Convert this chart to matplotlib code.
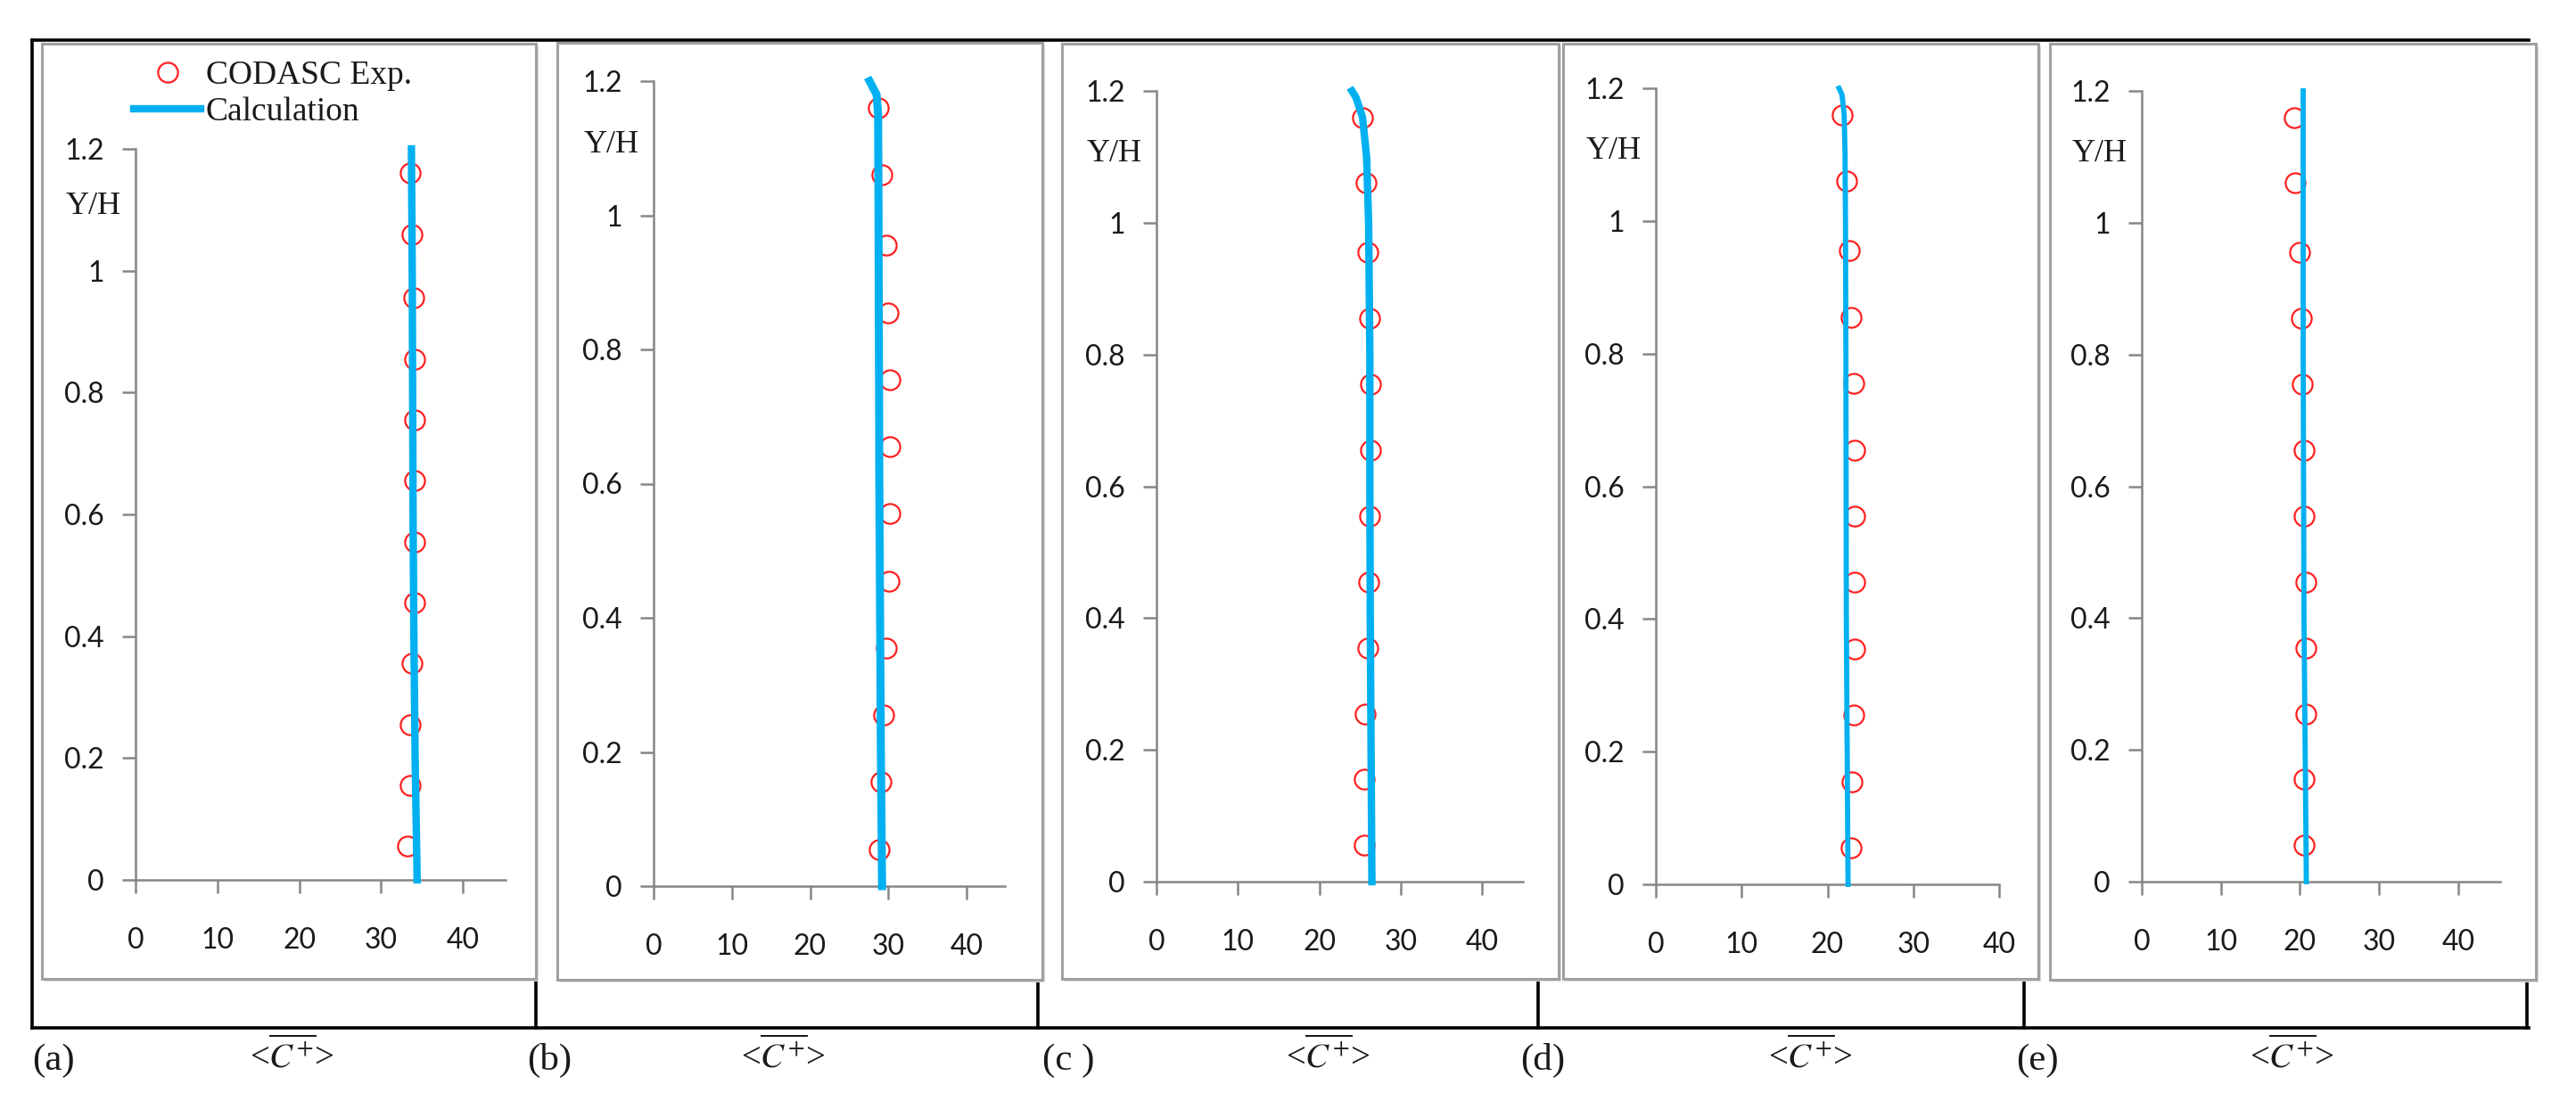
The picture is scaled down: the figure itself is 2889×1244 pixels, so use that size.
import matplotlib.pyplot as plt
from matplotlib.patches import Rectangle

# ---- data ----
exp_y = [0.055, 0.155, 0.255, 0.355, 0.455, 0.555, 0.655, 0.755, 0.855, 0.955, 1.06, 1.16]

exp_a = [33.2, 33.5, 33.6, 33.8, 34.1, 34.1, 34.1, 34.1, 34.1, 34.0, 33.8, 33.5]
exp_b = [28.85, 29.1, 29.4, 29.75, 30.1, 30.2, 30.2, 30.2, 30.0, 29.7, 29.2, 28.75]
exp_c = [25.5, 25.5, 25.6, 25.9, 26.1, 26.2, 26.3, 26.3, 26.2, 26.0, 25.7, 25.3]
exp_d = [22.8, 22.9, 23.1, 23.2, 23.2, 23.2, 23.2, 23.1, 22.8, 22.5, 22.2, 21.7]
exp_e = [20.5, 20.5, 20.7, 20.7, 20.7, 20.5, 20.5, 20.3, 20.2, 19.9, 19.4, 19.3]

calc_y_a = [0, 0.2, 0.4, 0.6, 0.8, 1.0, 1.2]
calc_x_a = [34.4, 34.15, 34.0, 33.9, 33.85, 33.8, 33.7]
calc_y_b = [0, 0.2, 0.4, 0.6, 0.8, 1.0, 1.15, 1.18, 1.2]
calc_x_b = [29.2, 29.05, 28.95, 28.85, 28.8, 28.75, 28.7, 28.5, 27.6]
calc_y_c = [0, 0.2, 0.4, 0.6, 0.8, 1.0, 1.1, 1.16, 1.19, 1.2]
calc_x_c = [26.45, 26.35, 26.25, 26.2, 26.2, 26.05, 25.8, 25.3, 24.5, 24.0]
calc_y_d = [0, 0.4, 0.8, 1.0, 1.1, 1.16, 1.19, 1.2]
calc_x_d = [22.4, 22.2, 22.15, 22.1, 22.05, 21.95, 21.7, 21.35]
calc_y_e = [0, 0.4, 0.8, 1.2]
calc_x_e = [20.8, 20.5, 20.4, 20.4]

panel_tags = ['(a)', '(b)', '(c )', '(d)', '(e)']
x_ticks = [0, 10, 20, 30, 40]
y_ticks = [0, 0.2, 0.4, 0.6, 0.8, 1, 1.2]
y_ticklabels = ['0', '0.2', '0.4', '0.6', '0.8', '1', '1.2']
xlabel = r'<$\overline{C^{+}}$>'

panels = [
    (exp_a, calc_x_a, calc_y_a),
    (exp_b, calc_x_b, calc_y_b),
    (exp_c, calc_x_c, calc_y_c),
    (exp_d, calc_x_d, calc_y_d),
    (exp_e, calc_x_e, calc_y_e),
]

# ---- layout in pixels of the 2889x1244 picture ----
W, H = 2889, 1244
# axes: left, right, top(1.2), bottom(0), xmax
axes_px = [
    (152, 567, 167, 987, 45.2),
    (733, 1127, 91, 994, 44.9),
    (1297, 1708, 102, 989, 45.0),
    (1857, 2242, 99, 992, 40.0),
    (2402, 2804, 102, 989, 45.3),
]
# gray chart boxes: left, top, right, bottom
boxes_px = [
    (47, 49, 601, 1098),
    (625, 48, 1169, 1099),
    (1191, 49, 1748, 1098),
    (1753, 49, 2286, 1098),
    (2299, 49, 2844, 1099),
]
dividers_x = [601, 1164, 1725, 2270, 2834]
tag_x = [60, 616, 1198, 1730, 2285]
xlabel_x = [327, 878, 1489, 2030, 2570]
lw_calc = [6.0, 6.5, 6.0, 4.2, 4.2]

blue = '#00b0f0'
red = '#ff2020'
axis_gray = '#868686'
serif = 'Liberation Serif'
sans = 'Lato'
plt.rcParams['mathtext.fontset'] = 'stix'

fig = plt.figure(figsize=(W / 100, H / 100), dpi=100)
bg = fig.add_axes([0, 0, 1, 1])
bg.set_xlim(0, W)
bg.set_ylim(H, 0)
bg.axis('off')

# black outer frame
bg.plot([36, 2836], [45, 45], color='black', lw=2.6, zorder=1)
bg.plot([36, 36], [45, 1153], color='black', lw=2.6, zorder=1)
bg.plot([36, 2836], [1153, 1153], color='black', lw=2.6, zorder=1)
for dx in dividers_x:
    bg.plot([dx, dx], [1090, 1153], color='black', lw=2.6, zorder=1)

# chart boxes with a light shadow
for (l, t, r, b) in boxes_px:
    bg.add_patch(Rectangle((l + 3, t + 3), r - l, b - t, facecolor='#dcdcdc',
                           edgecolor='none', zorder=2))
    bg.add_patch(Rectangle((l, t), r - l, b - t, facecolor='white',
                           edgecolor='#a0a0a0', lw=2.2, zorder=3))

for i, (exp_x, cx, cy) in enumerate(panels):
    left, right, top, bottom, xmax = axes_px[i]
    ax = fig.add_axes([left / W, 1 - bottom / H, (right - left) / W, (bottom - top) / H])
    ax.patch.set_alpha(0)
    ax.set_xlim(0, xmax)
    ax.set_ylim(0, 1.2)

    ax.plot(exp_x, exp_y, linestyle='none', marker='o', markersize=16,
            markerfacecolor='none', markeredgecolor=red, markeredgewidth=1.6,
            zorder=3, clip_on=False, label='CODASC Exp.')
    ax.plot(cx, cy, color=blue, lw=lw_calc[i], zorder=4, clip_on=False,
            label='Calculation')

    for side in ['top', 'right']:
        ax.spines[side].set_visible(False)
    for side in ['left', 'bottom']:
        ax.spines[side].set_color(axis_gray)
        ax.spines[side].set_linewidth(1.8)

    ax.set_xticks(x_ticks)
    ax.set_yticks(y_ticks)
    ax.set_yticklabels(y_ticklabels)
    ax.tick_params(axis='both', direction='out', length=10.5, width=1.8,
                   color=axis_gray, labelsize=23, labelcolor='#1a1a1a')
    ax.tick_params(axis='y', pad=15)
    ax.tick_params(axis='x', pad=28)
    for lab in ax.get_xticklabels() + ax.get_yticklabels():
        lab.set_fontfamily(sans)

    ax.annotate('Y/H', xy=(0, 1.105), xycoords=('axes fraction', 'data'),
                xytext=(-34, 0), textcoords='offset points', ha='center',
                va='center', fontsize=26, family=serif, color='#1a1a1a')

    if i == 0:
        ax.legend(loc='upper left', bbox_to_anchor=(150 / W, 1 - 68 / H),
                  bbox_transform=fig.transFigure, frameon=False, borderpad=0,
                  borderaxespad=0, handlelength=2.0, handletextpad=0.15,
                  labelspacing=0.15, numpoints=1, labelcolor='#1a1a1a',
                  prop={'family': serif, 'size': 27})

    fig.text(tag_x[i] / W, 1 - 1200 / H, panel_tags[i], ha='center', va='baseline',
             fontsize=31, family=serif, color='#1a1a1a')
    fig.text(xlabel_x[i] / W, 1 - 1198 / H, xlabel, ha='center', va='baseline',
             fontsize=28, family=serif, color='#1a1a1a')

fig.savefig('out.png', dpi=100)
